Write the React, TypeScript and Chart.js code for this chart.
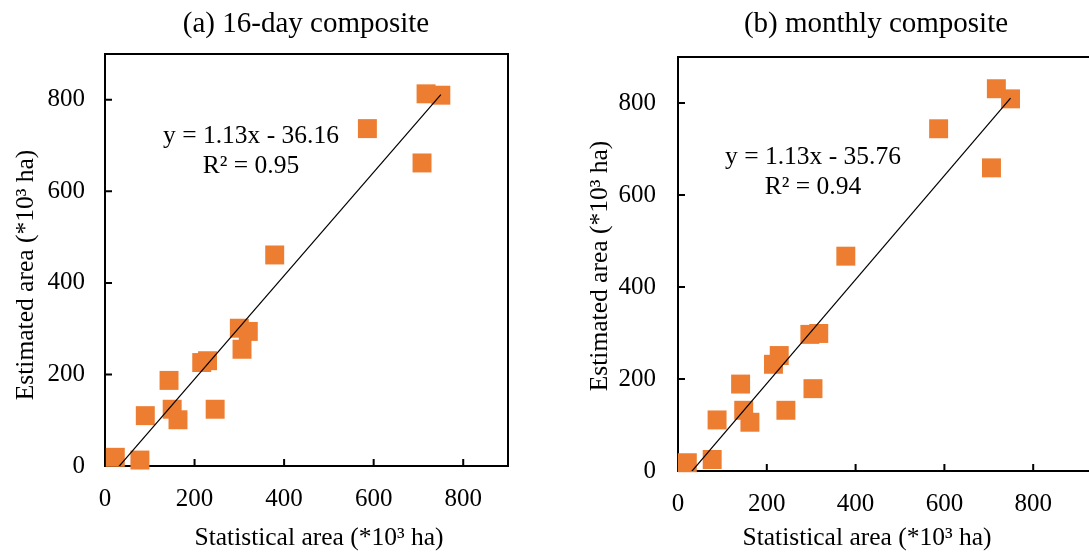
import { useEffect, useRef } from "react";
import { Chart, registerables } from "chart.js";

Chart.register(...registerables);

// ---------- data ----------
const statisticalA = [23, 78, 90, 143, 150, 163, 246, 216, 229, 300, 320, 306, 379, 586, 708, 717, 750];
const estimatedA = [19, 13, 110, 187, 124, 101, 124, 226, 230, 301, 294, 255, 461, 737, 662, 813, 810];

const statisticalB = [21, 77, 88, 141, 148, 162, 243, 304, 215, 228, 297, 317, 378, 587, 706, 717, 749];
const estimatedB = [18, 25, 111, 189, 132, 106, 132, 179, 232, 251, 297, 299, 467, 744, 659, 831, 809];

const slopeA = 1.13;
const interceptA = -36.16;
const r2A = 0.95;
const slopeB = 1.13;
const interceptB = -35.76;
const r2B = 0.94;

const tickValues = [0, 200, 400, 600, 800];
const titleA = "(a) 16-day composite";
const titleB = "(b) monthly composite";
const xAxisTitle = "Statistical area (*10\u00B3 ha)";
const yAxisTitle = "Estimated area (*10\u00B3 ha)";

const FONT = '"Liberation Serif", "Times New Roman", serif';
const ORANGE = "#ED7D31";

Chart.defaults.font.family = FONT;

const eqText = (s: number, b: number) =>
  `y = ${s.toFixed(2)}x ${b < 0 ? "-" : "+"} ${Math.abs(b).toFixed(2)}`;

const decorPlugin = {
  id: "decor",
  beforeDatasetsDraw(chart: any, _args: any, opts: any) {
    const { ctx, chartArea: a } = chart;
    const xs = chart.scales.x;
    const ys = chart.scales.y;
    ctx.save();
    ctx.strokeStyle = "#000";
    ctx.lineWidth = 2;
    ctx.lineCap = "square";
    ctx.beginPath();
    ctx.moveTo(a.right, a.top);
    ctx.lineTo(a.left, a.top);
    ctx.lineTo(a.left, a.bottom);
    ctx.lineTo(a.right, a.bottom);
    if (opts.rightBorder) ctx.lineTo(a.right, a.top);
    ctx.stroke();
    ctx.lineCap = "butt";
    ctx.beginPath();
    tickValues.forEach((v) => {
      if (v === 0) return;
      const px = xs.getPixelForValue(v);
      ctx.moveTo(px, a.bottom);
      ctx.lineTo(px, a.bottom - 7);
      const py = ys.getPixelForValue(v);
      ctx.moveTo(a.left, py);
      ctx.lineTo(a.left + 7, py);
    });
    ctx.stroke();
    ctx.restore();
  },
  afterDraw(chart: any, _args: any, opts: any) {
    const { ctx } = chart;
    ctx.save();
    ctx.fillStyle = "#000";
    ctx.textAlign = "center";
    ctx.textBaseline = "alphabetic";
    ctx.font = `29px ${FONT}`;
    ctx.fillText(opts.title, opts.titleX, opts.titleY);
    ctx.font = `25.5px ${FONT}`;
    ctx.fillText(opts.eq1, opts.eqX, opts.eqY1);
    ctx.fillText(opts.eq2, opts.eqX, opts.eqY2);
    ctx.font = `25.5px ${FONT}`;
    ctx.fillText(xAxisTitle, opts.xtX, opts.xtY);
    ctx.translate(opts.ytX, opts.ytY);
    ctx.rotate(-Math.PI / 2);
    ctx.fillText(yAxisTitle, 0, 0);
    ctx.restore();
  },
};

function makeConfig(
  xs: number[],
  ys: number[],
  slope: number,
  intercept: number,
  r2: number,
  xMax: number,
  layout: any,
  decor: any
): any {
  const lo = Math.min(...xs);
  const hi = Math.max(...xs);
  const trend = [lo, hi].map((x) => ({ x, y: slope * x + intercept }));
  const pts = xs.map((x, i) => ({ x, y: ys[i] }));
  return {
    type: "scatter",
    data: {
      datasets: [
        {
          type: "line",
          data: trend,
          borderColor: "#000",
          borderWidth: 1.2,
          pointRadius: 0,
          fill: false,
        },
        {
          data: pts,
          pointStyle: "rect",
          pointRadius: 13.4,
          backgroundColor: ORANGE,
          borderColor: ORANGE,
          borderWidth: 0,
          clip: false,
        },
      ],
    },
    options: {
      animation: false,
      responsive: false,
      events: [],
      layout: { padding: layout.padding },
      plugins: {
        legend: { display: false },
        tooltip: { enabled: false },
        title: { display: false },
        decor: {
          ...decor,
          eq1: eqText(slope, intercept),
          eq2: `R\u00B2 = ${r2.toFixed(2)}`,
        },
      },
      scales: {
        x: {
          type: "linear",
          min: 0,
          max: xMax,
          grid: { display: false },
          border: { display: false },
          afterBuildTicks: (s: any) => {
            s.ticks = tickValues.map((v) => ({ value: v }));
          },
          afterFit: (s: any) => {
            s.height = layout.xHeight;
          },
          ticks: {
            padding: 10,
            color: "#000",
            font: { family: FONT, size: 25 },
            maxRotation: 0,
          },
        },
        y: {
          type: "linear",
          min: 0,
          max: 900,
          grid: { display: false },
          border: { display: false },
          afterBuildTicks: (s: any) => {
            s.ticks = tickValues.map((v) => ({ value: v }));
          },
          afterFit: (s: any) => {
            s.width = layout.yWidth;
          },
          ticks: {
            padding: layout.yPad,
            color: "#000",
            font: { family: FONT, size: 25 },
          },
        },
      },
    },
    plugins: [decorPlugin],
  };
}

function ChartCanvas(props: { config: () => any; left: number; width: number }) {
  const ref = useRef<HTMLCanvasElement | null>(null);
  useEffect(() => {
    if (!ref.current) return;
    const chart = new Chart(ref.current, props.config());
    return () => chart.destroy();
  }, []);
  return (
    <canvas
      ref={ref}
      width={props.width}
      height={552}
      style={{ position: "absolute", left: props.left, top: 0, width: props.width, height: 552 }}
    />
  );
}

export default function App() {
  const configA = () =>
    makeConfig(
      statisticalA,
      estimatedA,
      slopeA,
      interceptA,
      r2A,
      900,
      { padding: { left: 0, top: 54, right: 37, bottom: 0 }, xHeight: 86, yWidth: 105, yPad: 12 },
      {
        rightBorder: true,
        title: titleA,
        titleX: 306,
        titleY: 32,
        eqX: 251,
        eqY1: 143,
        eqY2: 173,
        xtX: 319,
        xtY: 545,
        ytX: 33,
        ytY: 275,
      }
    );
  const configB = () =>
    makeConfig(
      statisticalB,
      estimatedB,
      slopeB,
      interceptB,
      r2B,
      1000,
      { padding: { left: 0, top: 57, right: 23, bottom: 0 }, xHeight: 81, yWidth: 133, yPad: 14 },
      {
        rightBorder: true,
        title: titleB,
        titleX: 331,
        titleY: 32,
        eqX: 268,
        eqY1: 164,
        eqY2: 194,
        xtX: 322,
        xtY: 545,
        ytX: 62,
        ytY: 266,
      }
    );
  return (
    <div
      style={{
        position: "fixed",
        left: 0,
        top: 0,
        width: 1089,
        height: 552,
        overflow: "hidden",
        background: "#fff",
      }}
    >
      <ChartCanvas config={configA} left={0} width={545} />
      <ChartCanvas config={configB} left={545} width={600} />
    </div>
  );
}
